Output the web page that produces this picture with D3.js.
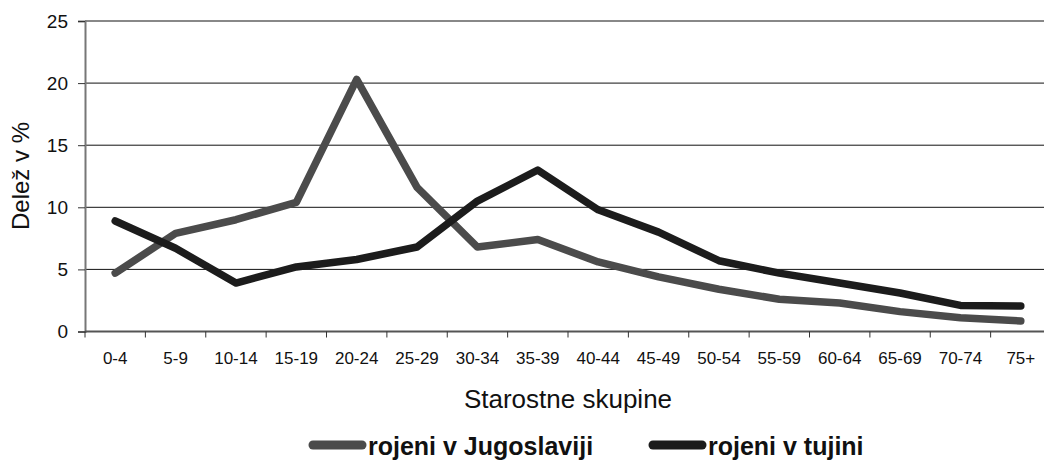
<!DOCTYPE html>
<html>
<head>
<meta charset="utf-8">
<script src="https://cdn.jsdelivr.net/npm/d3@7"></script>
<style>
body { margin: 0; background: #fff; }
svg { font-family: "Liberation Sans", Arial, sans-serif; }
</style>
</head>
<body>
<svg id="chart" width="1044" height="460"></svg>
<script>
const groups = ["0-4", "5-9", "10-14", "15-19", "20-24", "25-29", "30-34", "35-39",
    "40-44", "45-49", "50-54", "55-59", "60-64", "65-69", "70-74", "75+"];
const jugoslavija = [4.7, 7.9, 9.0, 10.4, 20.3, 11.6, 6.8, 7.4, 5.6, 4.4, 3.4, 2.6, 2.3, 1.6, 1.1, 0.85];
const tujina = [8.9, 6.7, 3.9, 5.2, 5.8, 6.8, 10.5, 13.0, 9.8, 8.0, 5.7, 4.7, 3.9, 3.1, 2.1, 2.05];
const yTicks = [0, 5, 10, 15, 20, 25];
const seriesNames = ["rojeni v Jugoslaviji", "rojeni v tujini"];

const margin = {top: 21, left: 85};
const width = 966, height = 310.5;

const svg = d3.select("#chart");
const g = svg.append("g").attr("transform", `translate(${margin.left},${margin.top})`);

const x = d3.scaleBand().domain(groups).range([0, width]);
const y = d3.scaleLinear().domain([0, 25]).range([height, 0]);

// grid lines
g.selectAll(".grid").data(yTicks.slice(1))
    .enter().append("line")
    .attr("x1", 0).attr("x2", width)
    .attr("y1", d => y(d)).attr("y2", d => y(d))
    .attr("stroke", d => d == 25 ? "#888" : "#111")
    .attr("stroke-width", d => d == 25 ? 2 : 1);

// Y axis
const yAxis = g.append("g").call(d3.axisLeft(y).tickValues(yTicks).tickSize(7).tickPadding(10));
yAxis.select(".domain").attr("stroke", "#777").attr("stroke-width", 2);
yAxis.selectAll(".tick line").attr("stroke", "#333");
yAxis.selectAll("text").attr("font-size", 19).attr("fill", "#111")
    .attr("font-family", "Liberation Sans, Arial, sans-serif");

// X axis
const xAxis = g.append("g").attr("transform", `translate(0,${height})`)
    .call(d3.axisBottom(x).tickSize(0).tickPadding(20));
xAxis.select(".domain").remove();
xAxis.selectAll("text").attr("font-size", 17).attr("fill", "#111")
    .attr("font-family", "Liberation Sans, Arial, sans-serif");
g.append("line").attr("x1", 0).attr("x2", width).attr("y1", height).attr("y2", height)
    .attr("stroke", "#555").attr("stroke-width", 2);
g.selectAll(".xtick").data(groups)
    .enter().append("line")
    .attr("x1", d => x(d)).attr("x2", d => x(d))
    .attr("y1", height).attr("y2", height + 6)
    .attr("stroke", "#333");

// lines
const line = d3.line()
    .x((d, i) => x(groups[i]) + x.bandwidth() / 2)
    .y(d => y(d));

const colors = ["#4b4b4b", "#1c1c1c"];
[jugoslavija, tujina].forEach((s, k) => {
    g.append("path")
        .datum(s)
        .attr("fill", "none")
        .attr("stroke", colors[k])
        .attr("stroke-width", 7.5)
        .attr("stroke-linejoin", "round")
        .attr("stroke-linecap", "round")
        .attr("d", line);
});

// axis titles
svg.append("text")
    .attr("transform", "rotate(-90)")
    .attr("x", -176)
    .attr("y", 29)
    .attr("text-anchor", "middle")
    .attr("font-size", 24)
    .attr("fill", "#111")
    .text("Delež v %");

svg.append("text")
    .attr("x", 568)
    .attr("y", 408)
    .attr("text-anchor", "middle")
    .attr("font-size", 26)
    .attr("fill", "#111")
    .text("Starostne skupine");

// legend
const legendX = [313, 653];
seriesNames.forEach((n, k) => {
    svg.append("line")
        .attr("x1", legendX[k]).attr("x2", legendX[k] + 49)
        .attr("y1", 445).attr("y2", 445)
        .attr("stroke", colors[k]).attr("stroke-width", 9)
        .attr("stroke-linecap", "round");
    svg.append("text")
        .attr("x", legendX[k] + 55)
        .attr("y", 455)
        .attr("font-size", 25)
        .attr("font-weight", "bold")
        .attr("fill", "#111")
        .text(n);
});
</script>
</body>
</html>
